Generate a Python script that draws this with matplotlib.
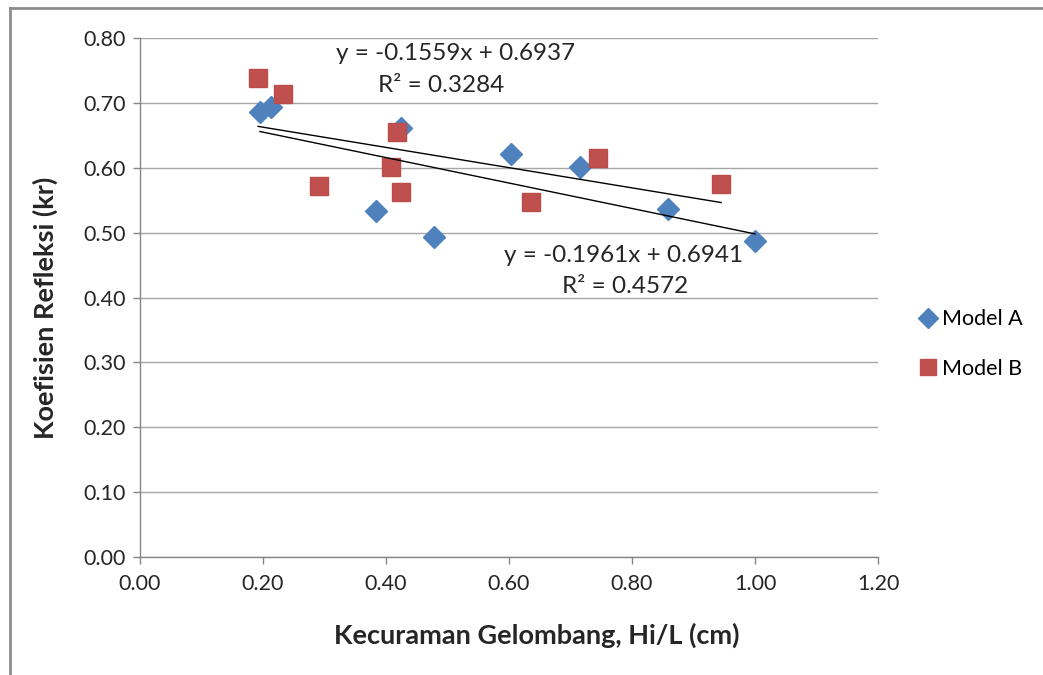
import matplotlib
matplotlib.use("Agg")
import matplotlib.pyplot as plt
from matplotlib.lines import Line2D
import numpy as np

plt.rcParams['font.family'] = ['Lato', 'DejaVu Sans']

# Data
model_a_x = [0.195, 0.213, 0.424, 0.384, 0.478, 0.603, 0.715, 0.859, 1.000]
model_a_y = [0.686, 0.693, 0.661, 0.533, 0.493, 0.621, 0.601, 0.536, 0.487]
model_b_x = [0.192, 0.233, 0.291, 0.418, 0.408, 0.424, 0.636, 0.745, 0.945]
model_b_y = [0.738, 0.713, 0.572, 0.655, 0.601, 0.562, 0.547, 0.615, 0.575]

trend_a = (-0.1961, 0.6941, 0.4572)
trend_b = (-0.1559, 0.6937, 0.3284)

x_ticks = [0.0, 0.2, 0.4, 0.6, 0.8, 1.0, 1.2]
y_ticks = [0.0, 0.1, 0.2, 0.3, 0.4, 0.5, 0.6, 0.7, 0.8]

blue = '#4F81BD'
red = '#C0504D'
gray = '#868686'
txt = '#262626'

fig = plt.figure(figsize=(10.43, 6.75), dpi=100)
ax = fig.add_axes([140/1043, 1-557/675, (878-140)/1043, (557-38)/675])

ax.set_xlim(0, 1.2)
ax.set_ylim(0, 0.8)
ax.set_xticks(x_ticks)
ax.set_yticks(y_ticks)
ax.set_xticklabels([f"{v:.2f}" for v in x_ticks])
ax.set_yticklabels([f"{v:.2f}" for v in y_ticks])
ax.tick_params(axis='both', colors=gray, labelcolor=txt, labelsize=15.5,
               length=5, width=1, direction='out')
ax.tick_params(axis='y', pad=5)
ax.tick_params(axis='x', pad=7)

for s in ['top', 'right']:
    ax.spines[s].set_visible(False)
for s in ['left', 'bottom']:
    ax.spines[s].set_color(gray)
    ax.spines[s].set_linewidth(1)

ax.yaxis.grid(True, color='#A6A6A6', linewidth=1)
ax.set_axisbelow(True)

ax.plot(model_a_x, model_a_y, linestyle='none', marker='D', markersize=11,
        color=blue, markeredgecolor=blue, label='Model A', zorder=3)
ax.plot(model_b_x, model_b_y, linestyle='none', marker='s', markersize=12.5,
        color=red, markeredgecolor='#B94D4A', label='Model B', zorder=3)

# trendlines
for xs, (m, c, r2) in [(model_a_x, trend_a), (model_b_x, trend_b)]:
    xx = np.array([min(xs), max(xs)])
    ax.plot(xx, m * xx + c, color='black', linewidth=1, zorder=4)

fs_ann = 17.5
ax.text(456/1043, 1-53/675, "y = -0.1559x + 0.6937", transform=fig.transFigure,
        ha='center', va='center', fontsize=fs_ann, color=txt)
ax.text(441/1043, 1-86/675, "R² = 0.3284", transform=fig.transFigure,
        ha='center', va='center', fontsize=fs_ann, color=txt)
ax.text(624/1043, 1-256/675, "y = -0.1961x + 0.6941", transform=fig.transFigure,
        ha='center', va='center', fontsize=fs_ann, color=txt)
ax.text(625/1043, 1-287/675, "R² = 0.4572", transform=fig.transFigure,
        ha='center', va='center', fontsize=fs_ann, color=txt)

fig.text(537/1043, 1-635/675, "Kecuraman Gelombang, Hi/L (cm)", fontsize=19.5,
         fontweight='bold', color=txt, ha='center', va='center')
fig.text(45/1043, 1-308/675, "Koefisien Refleksi (kr)", fontsize=19.5,
         fontweight='bold', color=txt, ha='center', va='center', rotation=90)

handles = [Line2D([], [], linestyle='none', marker='D', markersize=10, color=blue),
           Line2D([], [], linestyle='none', marker='s', markersize=11.5, color=red)]
fig.legend(handles, ['Model A', 'Model B'], loc='center left',
           bbox_to_anchor=(910/1043, 1-344/675), frameon=False, fontsize=15.5,
           handlelength=0.7, handletextpad=0.3, labelspacing=1.35, borderpad=0)

# outer chart border (left and top visible)
fig.add_artist(Line2D([10/1043, 10/1043], [0, 1-8/675], transform=fig.transFigure,
                      color='#8C8C8C', linewidth=2))
fig.add_artist(Line2D([10/1043, 1], [1-8/675, 1-8/675], transform=fig.transFigure,
                      color='#8C8C8C', linewidth=2))

fig.savefig("out.png", dpi=100, facecolor='white')
